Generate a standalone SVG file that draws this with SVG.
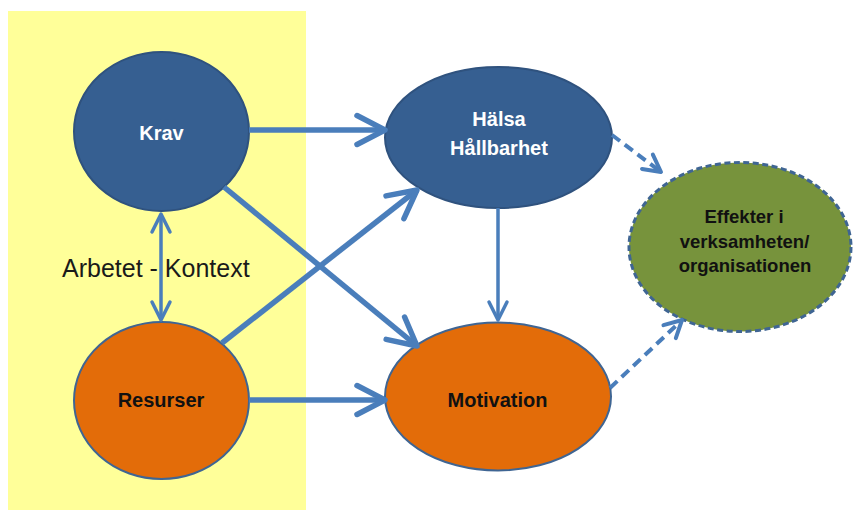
<svg xmlns="http://www.w3.org/2000/svg" width="853" height="510" viewBox="0 0 853 510">
  <defs>
    <style>
      .bg { fill: #FFFF99; }
      .blue { fill: #365F91; stroke: #2F527E; stroke-width: 2; }
      .orange { fill: #E36C09; stroke: #3F6593; stroke-width: 2; }
      .green { fill: #77933C; stroke: #3F6593; stroke-width: 3; stroke-dasharray: 6 3.5; }
      .lbl { font-family: "Liberation Sans", Arial, sans-serif; font-weight: bold; text-anchor: middle; }
      .w { fill: #FFFFFF; font-size: 20px; }
      .k { fill: #111111; font-size: 20px; }
      .g { fill: #111111; font-size: 18.5px; }
      .ctx { font-family: "Liberation Sans", Arial, sans-serif; font-size: 25px; fill: #1a1a1a; }
      .c { fill: none; stroke: #4A7EBB; stroke-linecap: butt; }
      .thick { stroke-width: 5.5; marker-end: url(#big); }
      .thin { stroke-width: 3.5; marker-end: url(#small); }
      .dash { stroke-width: 4; stroke-dasharray: 10 6; marker-end: url(#dashhead); }
    </style>
    <marker id="big" markerUnits="userSpaceOnUse" markerWidth="60" markerHeight="60" refX="0" refY="0" orient="auto" overflow="visible">
      <path d="M-28,-14.5 L0,0 L-28,14.5" fill="none" stroke="#4A7EBB" stroke-width="5.5" stroke-linecap="round" stroke-linejoin="round"/>
    </marker>
    <marker id="small" markerUnits="userSpaceOnUse" markerWidth="40" markerHeight="40" refX="0" refY="0" orient="auto-start-reverse" overflow="visible">
      <path d="M-18,-9 L0,0 L-18,9" fill="none" stroke="#4A7EBB" stroke-width="3.5" stroke-linecap="round" stroke-linejoin="round"/>
    </marker>
    <marker id="dashhead" markerUnits="userSpaceOnUse" markerWidth="40" markerHeight="40" refX="0" refY="0" orient="auto" overflow="visible">
      <path d="M-17,-9 L0,0 L-17,9" fill="none" stroke="#4A7EBB" stroke-width="4" stroke-linecap="round" stroke-linejoin="round"/>
    </marker>
  </defs>

  <rect class="bg" x="8" y="11" width="298" height="499"/>

  <g id="krav">
    <ellipse class="blue" cx="161.5" cy="131.5" rx="87.5" ry="79.5"/>
    <text class="lbl w" x="161.5" y="140">Krav</text>
  </g>
  <g id="resurser">
    <ellipse class="orange" cx="161.5" cy="400.5" rx="87.5" ry="78.5"/>
    <text class="lbl k" x="161" y="407">Resurser</text>
  </g>
  <g id="halsa">
    <ellipse class="blue" cx="498.5" cy="137.5" rx="113.5" ry="70.5"/>
    <text class="lbl w" x="499" y="126">Hälsa</text>
    <text class="lbl w" x="499" y="155">Hållbarhet</text>
  </g>
  <g id="motivation">
    <ellipse class="orange" cx="498" cy="396.5" rx="113" ry="74"/>
    <text class="lbl k" x="497.5" y="407">Motivation</text>
  </g>
  <g id="effekter">
    <ellipse class="green" cx="740" cy="247" rx="111" ry="84.5"/>
    <text class="lbl g" x="744" y="223">Effekter i</text>
    <text class="lbl g" x="744.5" y="248">verksamheten/</text>
    <text class="lbl g" x="745" y="272">organisationen</text>
  </g>

  <g id="context-label">
    <text class="ctx" x="62" y="277">Arbetet - Kontext</text>
  </g>

  <g id="connectors">
    <line class="c thick" x1="249" y1="130" x2="385" y2="130"/>
    <line class="c thick" x1="249" y1="400" x2="385" y2="400"/>
    <line class="c thick" x1="224" y1="187" x2="417" y2="346"/>
    <line class="c thick" x1="222" y1="343" x2="417" y2="190"/>
    <line class="c thin" x1="498" y1="208" x2="498" y2="320"/>
    <line class="c thin" x1="161" y1="214" x2="161" y2="320" marker-start="url(#small)"/>
    <line class="c dash" x1="612" y1="135" x2="661" y2="172"/>
    <line class="c dash" x1="610" y1="388" x2="682" y2="320"/>
  </g>
</svg>
